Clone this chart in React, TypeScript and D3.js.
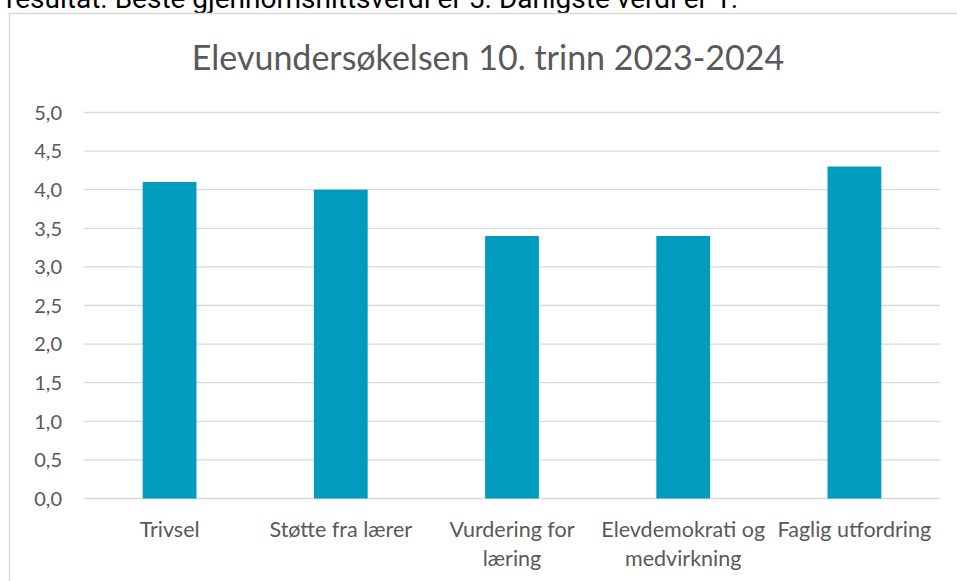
import React from "react";
import * as d3 from "d3";

const categories: string[][] = [
  ["Trivsel"],
  ["Støtte fra lærer"],
  ["Vurdering for", "læring"],
  ["Elevdemokrati og", "medvirkning"],
  ["Faglig utfordring"],
];
const values: number[] = [4.1, 4.0, 3.4, 3.4, 4.3];
const yTicks: number[] = [0, 0.5, 1, 1.5, 2, 2.5, 3, 3.5, 4, 4.5, 5];
const title = "Elevundersøkelsen 10. trinn 2023-2024";
const topText = "resultat. Beste gjennomsnittsverdi er 5. Dårligste verdi er 1.";

const W = 957;
const H = 581;
const FONT = "Lato, 'Open Sans', sans-serif";
const GREY = "#595959";
const GRID = "#d9d9d9";
const BAR = "#009bbd";

export default function App() {
  const plotLeft = 84;
  const plotRight = 940;
  const y = d3.scaleLinear().domain([0, 5]).range([498.5, 112.5]);
  const x = d3
    .scaleBand<number>()
    .domain(categories.map((_, i) => i))
    .range([plotLeft, plotRight])
    .paddingInner(0)
    .paddingOuter(0);
  const barW = x.bandwidth() * 0.314;
  const fmt = (v: number) => v.toFixed(1).replace(".", ",");

  return (
    <svg
      width={W}
      height={H}
      style={{ position: "fixed", left: 0, top: 0, background: "#fff" }}
    >
      <text
        x={6}
        y={7.5}
        fontFamily="Roboto, sans-serif"
        fontSize={28}
        fill="#000"
      >
        {topText}
      </text>
      <rect
        x={9.5}
        y={13.5}
        width={W + 20}
        height={H + 20}
        fill="#fff"
        stroke={GRID}
        strokeWidth={1.5}
      />
      <text
        x={488}
        y={70}
        textAnchor="middle"
        fontFamily={FONT}
        fontSize={34}
        fill={GREY}
      >
        {title}
      </text>
      {yTicks.map((t) => (
        <g key={t}>
          <line
            x1={plotLeft}
            x2={plotRight}
            y1={y(t)}
            y2={y(t)}
            stroke={GRID}
            strokeWidth={1.3}
          />
          <text
            x={62}
            y={y(t)}
            dy="0.36em"
            textAnchor="end"
            fontFamily={FONT}
            fontSize={20}
            fill={GREY}
          >
            {fmt(t)}
          </text>
        </g>
      ))}
      {values.map((v, i) => {
        const cx = (x(i) as number) + x.bandwidth() / 2;
        return (
          <rect
            key={i}
            x={cx - barW / 2}
            y={y(v)}
            width={barW}
            height={y(0) - y(v)}
            fill={BAR}
          />
        );
      })}
      {categories.map((lines, i) => {
        const cx = (x(i) as number) + x.bandwidth() / 2;
        return (
          <text
            key={i}
            textAnchor="middle"
            fontFamily={FONT}
            fontSize={21.5}
            fill={GREY}
          >
            {lines.map((l, j) => (
              <tspan key={j} x={cx} y={537 + j * 29}>
                {l}
              </tspan>
            ))}
          </text>
        );
      })}
    </svg>
  );
}
